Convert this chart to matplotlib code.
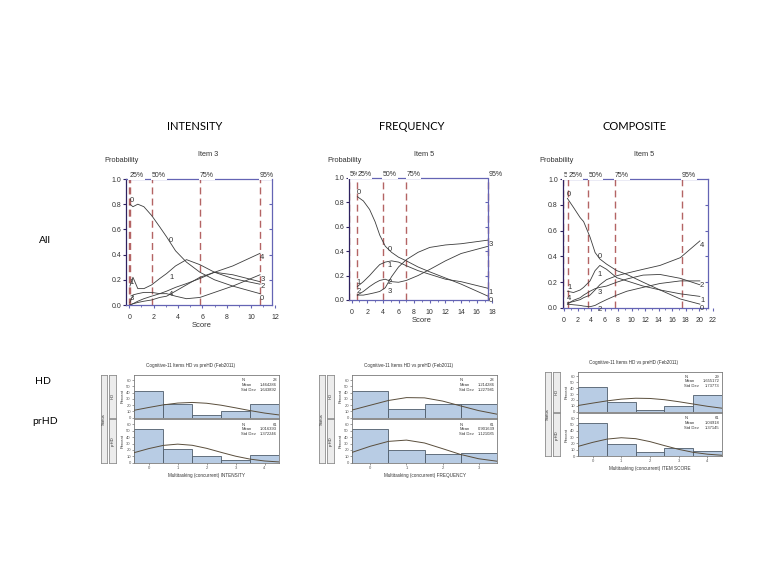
import matplotlib.pyplot as plt
from matplotlib.ticker import MultipleLocator

plt.rcParams['font.family'] = ['Liberation Sans', 'DejaVu Sans']

W, H = 768, 576

# slide headings
col_titles = ['INTENSITY', 'FREQUENCY', 'COMPOSITE']
row_titles = ['All', 'HD', 'prHD']
item_titles = ['Item 3', 'Item 5', 'Item 5']
pct_labels = ['5%', '25%', '50%', '75%', '95%']

# ---- top row: probability of each item category vs score
int_score = [0.05, 0.3, 0.7, 1.2, 1.84, 2.5, 3.07, 3.8, 4.7, 5.8, 7.0, 8.5, 10.74]
int_p0 = [0.80, 0.78, 0.80, 0.78, 0.71, 0.62, 0.54, 0.43, 0.34, 0.26, 0.20, 0.15, 0.09]
int_p1 = [0.15, 0.22, 0.13, 0.13, 0.16, 0.21, 0.25, 0.31, 0.36, 0.32, 0.26, 0.21, 0.165]
int_p2 = [0.00, 0.01, 0.02, 0.03, 0.04, 0.06, 0.07, 0.11, 0.16, 0.22, 0.26, 0.24, 0.185]
int_p3 = [0.02, 0.08, 0.09, 0.10, 0.10, 0.09, 0.09, 0.07, 0.05, 0.06, 0.10, 0.15, 0.24]
int_p4 = [0.00, 0.01, 0.03, 0.05, 0.07, 0.09, 0.11, 0.14, 0.17, 0.21, 0.26, 0.31, 0.41]
int_pct = [-0.05, 0.05, 1.84, 5.81, 10.74]

freq_score = [0.73, 1.5, 2.3, 3.0, 3.6, 4.3, 5.1, 6.0, 7.0, 8.5, 10.0, 12.0, 14.0, 17.5]
freq_p0 = [0.845, 0.81, 0.74, 0.64, 0.53, 0.44, 0.39, 0.35, 0.32, 0.27, 0.23, 0.18, 0.13, 0.03]
freq_p1 = [0.11, 0.15, 0.20, 0.25, 0.29, 0.31, 0.32, 0.31, 0.28, 0.24, 0.21, 0.17, 0.15, 0.095]
freq_p2 = [0.04, 0.07, 0.11, 0.14, 0.16, 0.17, 0.15, 0.145, 0.16, 0.20, 0.25, 0.32, 0.38, 0.44]
freq_p3 = [0.04, 0.04, 0.05, 0.06, 0.07, 0.10, 0.19, 0.27, 0.33, 0.39, 0.43, 0.45, 0.46, 0.49]
freq_pct = [-0.3, 0.73, 4.0, 7.0, 17.5]

comp_score = [0.5, 1.4, 2.4, 2.9, 3.85, 4.6, 5.3, 6.3, 7.8, 9.3, 11.7, 14.2, 17.2, 20.1]
comp_p0 = [0.85, 0.78, 0.70, 0.67, 0.55, 0.43, 0.38, 0.34, 0.29, 0.26, 0.20, 0.14, 0.07, 0.03]
comp_p1 = [0.13, 0.12, 0.14, 0.16, 0.21, 0.29, 0.33, 0.30, 0.235, 0.21, 0.17, 0.14, 0.11, 0.09]
comp_p2 = [0.03, 0.025, 0.02, 0.015, 0.01, 0.02, 0.04, 0.065, 0.10, 0.13, 0.16, 0.19, 0.21, 0.21]
comp_p3 = [0.03, 0.06, 0.08, 0.10, 0.13, 0.15, 0.16, 0.17, 0.20, 0.225, 0.255, 0.26, 0.23, 0.18]
comp_p4 = [0.04, 0.05, 0.065, 0.08, 0.10, 0.14, 0.18, 0.22, 0.25, 0.27, 0.30, 0.33, 0.39, 0.52]
comp_pct = [-0.1, 0.64, 3.6, 7.5, 17.4]

# ---- bottom row: percent of subjects per response, HD vs prHD
int_cats = [0, 1, 2, 3, 4]
int_hd_pct = [42.9, 21.4, 3.6, 10.7, 21.4]
int_pr_pct = [52.5, 21.3, 9.8, 4.9, 11.5]
int_fit_x = [-0.5, 0, 0.5, 1, 1.5, 2, 2.5, 3, 3.5, 4, 4.5]
int_hd_fit = [11.9, 16.3, 20.4, 23.3, 24.3, 23.0, 19.9, 15.7, 11.3, 7.4, 4.4]
int_pr_fit = [15.8, 22.1, 27.1, 29.1, 27.3, 22.5, 16.2, 10.2, 5.6, 2.7, 1.2]
int_hd_stats = ['28', '1.464286', '1.643892']
int_pr_stats = ['61', '1.016393', '1.372246']

freq_cats = [0, 1, 2, 3]
freq_hd_pct = [42.9, 14.3, 21.4, 21.4]
freq_pr_pct = [52.5, 19.7, 13.1, 14.8]
freq_fit_x = [-0.5, 0, 0.5, 1, 1.5, 2, 2.5, 3, 3.5]
freq_hd_fit = [12.3, 19.9, 27.4, 32.0, 31.6, 26.5, 18.8, 11.3, 5.7]
freq_pr_fit = [16.3, 25.8, 33.4, 35.4, 30.9, 22.0, 12.9, 6.2, 2.4]
freq_hd_stats = ['28', '1.214286', '1.227981']
freq_pr_stats = ['61', '0.901639', '1.121085']

comp_cats = [0, 1, 2, 3, 4]
comp_hd_pct = [41.4, 17.2, 3.4, 10.3, 27.6]
comp_pr_pct = [52.5, 19.7, 6.6, 13.1, 8.2]
comp_fit_x = [-0.5, 0, 0.5, 1, 1.5, 2, 2.5, 3, 3.5, 4, 4.5]
comp_hd_fit = [10.6, 14.6, 18.4, 21.4, 22.9, 22.5, 20.4, 17.0, 13.1, 9.2, 6.0]
comp_pr_fit = [15.4, 21.7, 26.9, 29.1, 27.6, 22.9, 16.6, 10.6, 5.9, 2.9, 1.2]
comp_hd_stats = ['29', '1.655172', '1.73773']
comp_pr_stats = ['61', '1.04918', '1.37145']

hist_title = 'Cognitive-11 Items HD vs preHD (Feb2011)'
hist_xlabels = ['Multitasking (concurrent) INTENSITY',
                'Multitasking (concurrent) FREQUENCY',
                'Multitasking (concurrent) ITEM SCORE']
stat_names = ['N', 'Mean', 'Std Dev']

AXIS_BLUE = '#6464b4'
LEFT_DARK = '#2e2260'
DASH_RED = '#b46464'
CURVE = '#3c3c3c'

fig = plt.figure(figsize=(W / 100, H / 100), dpi=100)


def rect(x0, y0, x1, y1):
    # pixel box (top-left origin) -> figure fraction
    return [x0 / W, 1 - y1 / H, (x1 - x0) / W, (y1 - y0) / H]


def ftext(x, y, s, **kw):
    fig.text(x / W, 1 - y / H, s, **kw)


def place_labels(ax, xs, ys, dx, dy, min_gap):
    # category numbers along one score position, skipping ones that would sit on top of another
    used = []
    for k, y in sorted(enumerate(ys), key=lambda t: -t[1]):
        if any(abs(y - u) < min_gap for u in used):
            continue
        used.append(y)
        ax.text(xs[k] + dx, y + dy, str(k), fontsize=5.5, ha='center', va='center',
                color='#333333')


def prob_panel(box, xlim, right_x, xmax, score, curves, pct_x, mid_i, score_label):
    ax = fig.add_axes(rect(*box))
    ax.set_xlim(*xlim)
    ax.set_ylim(0, 1)
    span = xlim[1] - xlim[0]

    for px in pct_x:
        ax.vlines(px, 0, 1, colors=DASH_RED, linestyles=(0, (5, 3)), lw=1.0, zorder=1)
    for px, lab in zip(pct_x, pct_labels):
        ax.text(px, 1.0, lab, ha='left', va='bottom', fontsize=5, color='#333333',
                bbox=dict(fc='white', ec='none', pad=0.6), zorder=4)

    for ys in curves:
        ax.plot(score, ys, color=CURVE, lw=0.6, clip_on=False, zorder=2)
    n = len(curves)
    place_labels(ax, [score[0]] * n, [c[0] for c in curves], 0.012 * span, 0.03, 0.07)
    place_labels(ax, [score[mid_i]] * n, [c[mid_i] for c in curves], 0.03 * span, -0.03, 0.05)
    place_labels(ax, [score[-1]] * n, [c[-1] for c in curves], 0.015 * span, -0.035, 0.05)

    ax.spines['top'].set_color(AXIS_BLUE)
    ax.spines['top'].set_bounds(xlim[0], right_x)
    ax.spines['bottom'].set_color(AXIS_BLUE)
    ax.spines['bottom'].set_bounds(xlim[0], right_x)
    ax.spines['left'].set_color(LEFT_DARK)
    ax.spines['right'].set_visible(False)
    for s in ax.spines.values():
        s.set_linewidth(0.9)

    ax.set_xticks(range(0, xmax + 1, 2))
    ax.xaxis.set_minor_locator(MultipleLocator(1))
    ax.set_yticks([0, 0.2, 0.4, 0.6, 0.8, 1.0])
    ax.set_yticklabels(['0.0', '0.2', '0.4', '0.6', '0.8', '1.0'])
    ax.tick_params(axis='x', which='major', length=2.5, pad=4, labelsize=5,
                   color=AXIS_BLUE, labelcolor='#333333')
    ax.tick_params(axis='x', which='minor', length=1.5, color=AXIS_BLUE)
    ax.tick_params(axis='y', length=2, pad=1.5, labelsize=5, color=LEFT_DARK,
                   labelcolor='#333333')
    if score_label:
        ax.set_xlabel('Score', fontsize=5.5, labelpad=1, color='#333333')

    ax2 = ax.twinx()
    ax2.set_ylim(0, 1)
    for s in ['left', 'top', 'bottom']:
        ax2.spines[s].set_visible(False)
    ax2.spines['right'].set_position(('data', right_x))
    ax2.spines['right'].set_color(AXIS_BLUE)
    ax2.spines['right'].set_linewidth(0.9)
    ax2.set_yticks([0.2, 0.4, 0.6, 0.8])
    ax2.tick_params(axis='y', direction='in', length=2, labelright=False, color=AXIS_BLUE)
    return ax


def strip(box, label):
    sa = fig.add_axes(rect(*box))
    sa.set_facecolor('#ececec')
    sa.set_xticks([])
    sa.set_yticks([])
    for s in sa.spines.values():
        s.set_color('#8c8c8c')
        s.set_linewidth(0.6)
    sa.text(0.5, 0.5, label, rotation=90, ha='center', va='center', fontsize=3,
            color='#333333', transform=sa.transAxes)


def hist_panel(x0, x1, ytop, ymid, ybot, cats, hd_pct, pr_pct, fit_x, hd_fit, pr_fit,
               hd_stats, pr_stats, xlabel):
    gap = 1.6
    panels = [(ytop, ymid - gap / 2, hd_pct, hd_fit, hd_stats, 'HD'),
              (ymid + gap / 2, ybot, pr_pct, pr_fit, pr_stats, 'prHD')]
    ftext((x0 - 32 + x1) / 2, ytop - 9, hist_title, fontsize=3.3, ha='center',
          va='center', color='#333333')
    strip((x0 - 33, ytop, x0 - 27, ybot), 'Status')
    for i, (a, b, pct, fit, stats, name) in enumerate(panels):
        strip((x0 - 25, a, x0 - 18.5, b), name)
        ax = fig.add_axes(rect(x0, a, x1, b))
        ax.bar(cats, pct, width=1.0, color='#b8cce4', edgecolor='#4e5c6a', lw=0.6, zorder=2)
        ax.plot(fit_x, fit, color='#5a4e3c', lw=0.7, zorder=3)
        ax.set_xlim(-0.5, len(cats) - 0.5)
        ax.set_ylim(0, 68)
        ax.set_yticks(range(0, 61, 10))
        ax.set_xticks(cats)
        ax.tick_params(labelsize=3, length=1.5, width=0.4, pad=1, colors='#555555')
        if i == 0:
            ax.tick_params(axis='x', labelbottom=False, length=0)
        else:
            ax.set_xlabel(xlabel, fontsize=3.3, labelpad=2, color='#333333')
        ax.set_ylabel('Percent', fontsize=3, labelpad=1.5, color='#333333')
        for s in ax.spines.values():
            s.set_color('#7a7a7a')
            s.set_linewidth(0.6)
        for r, (nm, val) in enumerate(zip(stat_names, stats)):
            yy = 0.88 - r * 0.115
            ax.text(0.74, yy, nm, fontsize=3, transform=ax.transAxes, va='center',
                    color='#333333')
            ax.text(0.985, yy, val, fontsize=3, transform=ax.transAxes, va='center',
                    ha='right', color='#333333')


# slide text
ftext(195, 126, col_titles[0], fontsize=8, ha='center', va='center', family='Lato')
ftext(412, 126, col_titles[1], fontsize=8, ha='center', va='center', family='Lato')
ftext(635, 126, col_titles[2], fontsize=8, ha='center', va='center', family='Lato')
ftext(45, 240, row_titles[0], fontsize=7.5, ha='center', va='center', family='Lato')
ftext(43, 381, row_titles[1], fontsize=7.5, ha='center', va='center', family='Lato')
ftext(45, 422, row_titles[2], fontsize=7.5, ha='center', va='center', family='Lato')

# panel headers
for px, ix, it in [(121.5, 208, item_titles[0]), (344.5, 424, item_titles[1]),
                   (557, 644, item_titles[2])]:
    ftext(px, 160.5, 'Probability', fontsize=5.3, ha='center', va='center', color='#333333')
    ftext(ix, 155, it, fontsize=5.3, ha='center', va='center', color='#333333')

prob_panel((126, 179, 276.6, 305), (-0.27, 12.1), 11.7, 12, int_score,
           [int_p0, int_p1, int_p2, int_p3, int_p4], int_pct, 6, True)
prob_panel((349.3, 177.7, 493.1, 300), (-0.3, 18.1), 17.5, 18, freq_score,
           [freq_p0, freq_p1, freq_p2, freq_p3], freq_pct, 5, True)
prob_panel((562.65, 179, 713.4, 308), (-0.2, 22.1), 21.35, 22, comp_score,
           [comp_p0, comp_p1, comp_p2, comp_p3, comp_p4], comp_pct, 5, False)

hist_panel(134.3, 279, 375, 418.5, 462.7, int_cats, int_hd_pct, int_pr_pct, int_fit_x,
           int_hd_fit, int_pr_fit, int_hd_stats, int_pr_stats, hist_xlabels[0])
hist_panel(352.3, 496.7, 375, 418.5, 462.7, freq_cats, freq_hd_pct, freq_pr_pct, freq_fit_x,
           freq_hd_fit, freq_pr_fit, freq_hd_stats, freq_pr_stats, hist_xlabels[1])
hist_panel(578.3, 721.7, 371.7, 412.5, 456, comp_cats, comp_hd_pct, comp_pr_pct, comp_fit_x,
           comp_hd_fit, comp_pr_fit, comp_hd_stats, comp_pr_stats, hist_xlabels[2])

fig.savefig('out.png', dpi=100)
